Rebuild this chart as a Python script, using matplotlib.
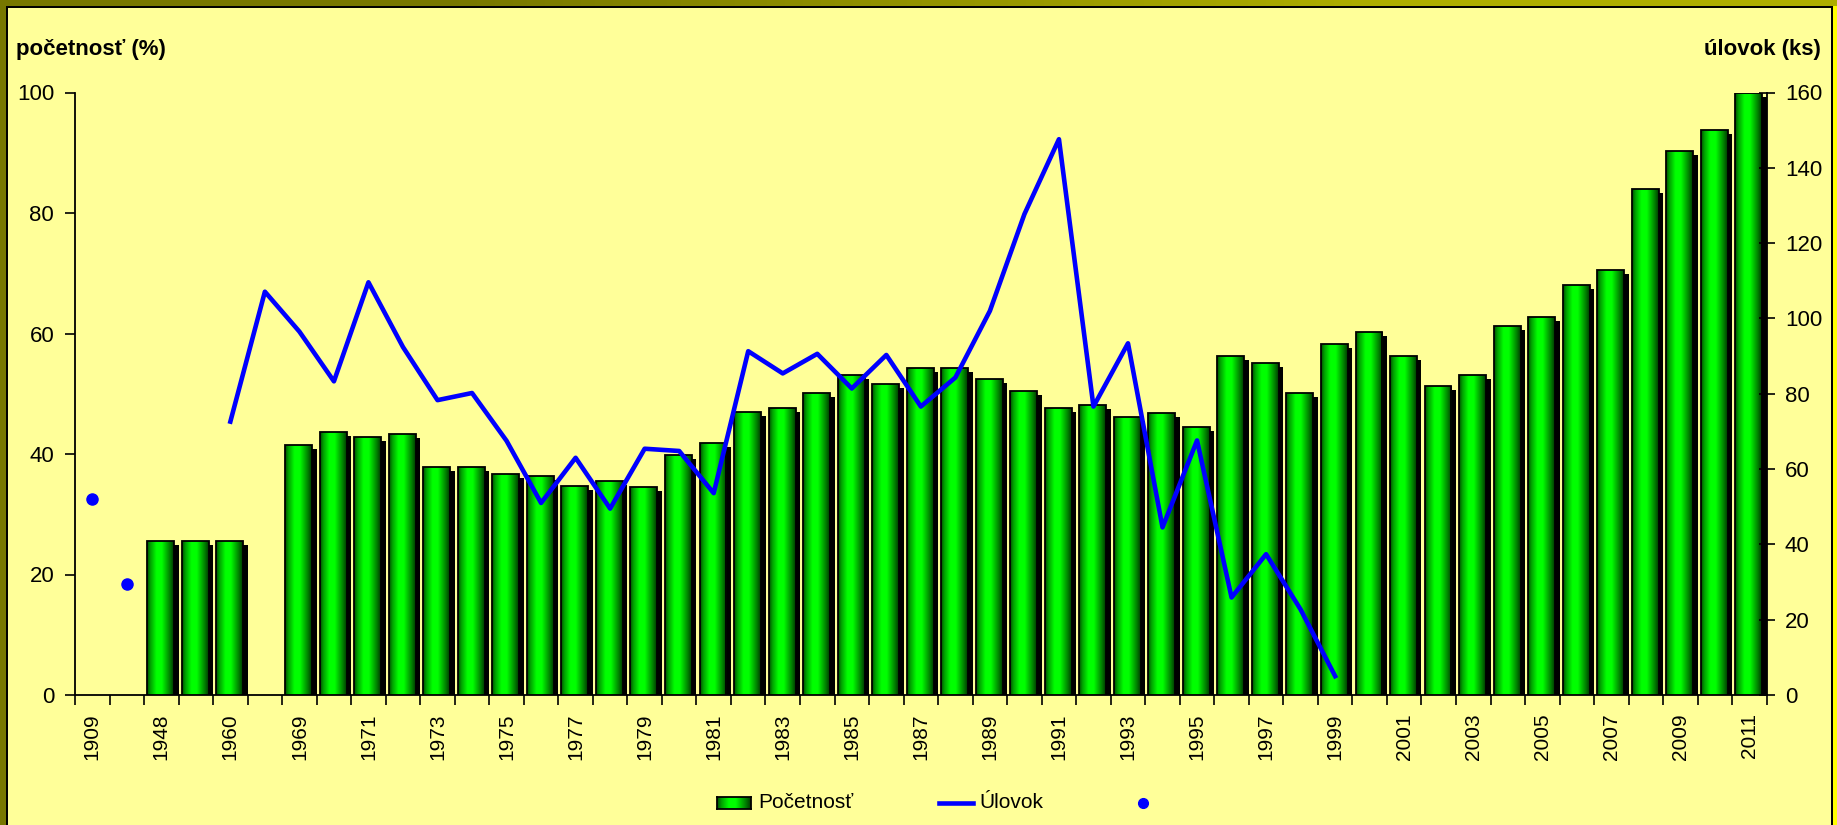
import numpy as np
import matplotlib
matplotlib.use('Agg')
import matplotlib.pyplot as plt
from matplotlib.patches import Rectangle
from matplotlib.lines import Line2D
import matplotlib.transforms as mtransforms

plt.rcParams['font.family'] = ['Liberation Sans', 'DejaVu Sans']

# ---------------- data ----------------
years = ['1909', '1938', '1948', '1955', '1960', '1965',
         '1969', '1970', '1971', '1972', '1973', '1974', '1975', '1976', '1977', '1978',
         '1979', '1980', '1981', '1982', '1983', '1984', '1985', '1986', '1987', '1988',
         '1989', '1990', '1991', '1992', '1993', '1994', '1995', '1996', '1997', '1998',
         '1999', '2000', '2001', '2002', '2003', '2004', '2005', '2006', '2007', '2008',
         '2009', '2010', '2011']
nan = np.nan
pocetnost = [nan, nan, 25.5, 25.5, 25.5, nan,
             41.5, 43.6, 42.8, 43.3, 37.8, 37.8, 36.7, 36.4, 34.7, 35.5,
             34.6, 39.8, 41.8, 47.0, 47.6, 50.2, 53.1, 51.6, 54.2, 54.2,
             52.5, 50.5, 47.6, 48.1, 46.1, 46.8, 44.4, 56.3, 55.1, 50.1,
             58.3, 60.3, 56.3, 51.3, 53.1, 61.2, 62.8, 68.0, 70.6, 84.0,
             90.3, 93.7, 100.0]
ulovok = [nan, nan, nan, nan, 72.6, 107.1,
          96.5, 83.3, 109.6, 92.4, 78.3, 80.2, 67.5, 51.0, 63.0, 49.5,
          65.4, 64.8, 53.6, 91.3, 85.4, 90.6, 81.4, 90.3, 76.6, 84.3,
          102.0, 127.7, 147.6, 76.6, 93.4, 44.5, 67.6, 25.9, 37.4, 22.7,
          5.0, nan, nan, nan, nan, nan, nan, nan, nan, nan,
          nan, nan, nan]
ulovok_dots = [52.0, 29.5, nan, nan, nan, nan] + [nan] * 43

left_ticks = [0, 20, 40, 60, 80, 100]
right_ticks = [0, 20, 40, 60, 80, 100, 120, 140, 160]

# ---------------- figure ----------------
W, H = 1837, 825
fig = plt.figure(figsize=(W / 100, H / 100), dpi=100)
fig.patch.set_facecolor('#FFFF99')


def frect(x0, y0, x1, y1):
    return [x0 / W, 1 - y1 / H, (x1 - x0) / W, (y1 - y0) / H]


def add_frect(x0, y0, x1, y1, color):
    b = frect(x0, y0, x1, y1)
    fig.add_artist(Rectangle((b[0], b[1]), b[2], b[3], transform=fig.transFigure,
                             facecolor=color, edgecolor='none', zorder=0))


# frame (bevel)
tb = fig.add_axes(frect(0, 0, W, 6))
tb.imshow(np.array([[[0.47, 0.47, 0.0], [0.68, 0.68, 0.0]]]), aspect='auto',
          interpolation='bilinear', extent=[0, 1, 0, 1])
tb.set_axis_off()
add_frect(0, 0, 6, H, '#777700')
add_frect(W - 4, 0, W, H, '#FFFF00')
add_frect(6, 6, W - 4, 8, '#000000')
add_frect(6, 6, 8, H, '#000000')
add_frect(W - 6, 6, W - 4, H, '#000000')

# gradient for bars
t = np.linspace(0, 1, 80)
stops = [0.0, 0.12, 0.35, 0.55, 0.85, 1.0]
gvals = [0.30, 0.62, 1.0, 1.0, 0.50, 0.22]
g = np.interp(t, stops, gvals)
grad = np.zeros((1, len(t), 3))
grad[0, :, 1] = g

# ---------------- axes ----------------
ax = fig.add_axes(frect(75, 92.5, 1766.7, 695))
ax.set_facecolor('none')
n = len(years)
xs = np.arange(n)

shadow_tr = ax.transData + mtransforms.ScaledTranslation(4.5 / 100, -4 / 100, fig.dpi_scale_trans)
bw = 0.78
for i, v in enumerate(pocetnost):
    if np.isnan(v):
        continue
    x0 = xs[i] - 0.41
    sh = Rectangle((x0, 0), bw, v, transform=shadow_tr, facecolor='black',
                   edgecolor='none', zorder=2)
    ax.add_patch(sh)
    rect = Rectangle((x0, 0), bw, v, facecolor='none', edgecolor='black',
                     lw=1.3, zorder=4)
    ax.add_patch(rect)
    im = ax.imshow(grad, extent=[x0, x0 + bw, 0, v], aspect='auto',
                   interpolation='bilinear', zorder=3)
    im.set_clip_path(rect)

ax.set_xlim(-0.5, n - 0.5)
ax.set_ylim(0, 100)
ax.set_aspect('auto')
ax.set_yticks(left_ticks)
ax.set_xticks(xs)
ax.set_xticklabels([y if i % 2 == 0 else '' for i, y in enumerate(years)],
                   rotation=90, fontsize=15)
ax.set_xticks(np.arange(n + 1) - 0.5, minor=True)
ax.tick_params(axis='x', which='major', length=0, pad=13)
ax.tick_params(axis='x', which='minor', length=7, width=1.2, direction='out')
ax.tick_params(axis='y', length=7, width=1.2, direction='out', labelsize=16, pad=8)
for s in ['top', 'right']:
    ax.spines[s].set_visible(False)
for s in ['left', 'bottom']:
    ax.spines[s].set_linewidth(1.3)

ax2 = ax.twinx()
ax2.set_ylim(0, 160)
ax2.set_yticks(right_ticks)
ax2.plot(xs, ulovok, color='#0000FF', lw=3.3, solid_joinstyle='round', zorder=5)
ax2.plot(xs, ulovok_dots, 'o', color='#0000FF', ms=8, zorder=5)
ax2.tick_params(axis='y', length=12, width=1.2, direction='inout', labelsize=16, pad=7)
for s in ['top', 'left', 'bottom']:
    ax2.spines[s].set_visible(False)
ax2.spines['right'].set_linewidth(1.3)
ax2.set_xlim(-0.5, n - 0.5)

# axis titles
fig.text(16 / W, 1 - 50 / H, 'početnosť (%)', fontsize=16, fontweight='bold',
         ha='left', va='center')
fig.text(1821 / W, 1 - 50 / H, 'úlovok (ks)', fontsize=16, fontweight='bold',
         ha='right', va='center')

# legend
ly = 803
lax = fig.add_axes(frect(717, ly - 6, 751, ly + 6))
lax.imshow(grad, aspect='auto', interpolation='bilinear', extent=[0, 1, 0, 1])
lax.set_xticks([])
lax.set_yticks([])
for s in lax.spines.values():
    s.set_linewidth(1.3)
fig.text(758 / W, 1 - ly / H, 'Početnosť', fontsize=15, ha='left', va='center')
fig.add_artist(Line2D([939 / W, 973 / W], [1 - ly / H, 1 - ly / H], color='#0000FF',
                      lw=3.3, transform=fig.transFigure))
fig.text(979 / W, 1 - ly / H, 'Úlovok', fontsize=15, ha='left', va='center')
fig.add_artist(Line2D([1143 / W], [1 - ly / H], marker='o', color='#0000FF', ms=7,
                      transform=fig.transFigure))

fig.savefig('out.png', dpi=100, facecolor=fig.get_facecolor())
